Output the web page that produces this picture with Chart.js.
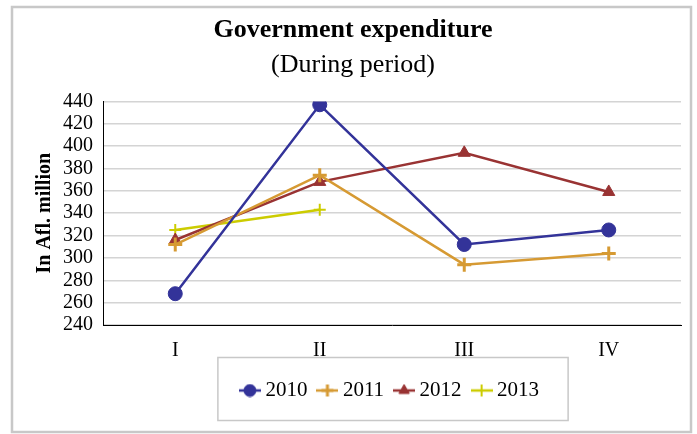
<!DOCTYPE html>
<html>
<head>
<meta charset="utf-8">
<script src="https://cdn.jsdelivr.net/npm/chart.js@4.4.1/dist/chart.umd.min.js"></script>
<style>
  html, body { margin: 0; padding: 0; background: #fff; }
  #wrap { position: relative; width: 697px; height: 434px; }
</style>
</head>
<body>
<div id="wrap"><canvas id="myChart"></canvas></div>
<script>
const categories = ['I', 'II', 'III', 'IV'];
const values2010 = [268, 437, 312, 325];
const values2011 = [312, 374, 294, 304];
const values2012 = [316, 368, 394, 359];
const values2013 = [325, 343, null, null];
const yTicks = { min: 240, max: 440, step: 20 };

const FONT = "'Liberation Serif', 'Times New Roman', serif";
const ctx = document.getElementById('myChart');

// small line+marker pictures for the legend
function legendIcon(color, style, radius, lw) {
  const c = document.createElement('canvas');
  c.width = 22; c.height = 14;
  const g = c.getContext('2d');
  g.strokeStyle = color;
  g.fillStyle = color;
  g.lineWidth = 2.5;
  g.beginPath(); g.moveTo(0, 7); g.lineTo(22, 7); g.stroke();
  g.lineWidth = lw;
  Chart.helpers.drawPoint(g, { pointStyle: style, radius, borderWidth: lw, rotation: 0 }, 11, 7);
  return c;
}

function makeSet(label, data, color, style, radius, lw) {
  return {
    label,
    data,
    borderColor: color,
    backgroundColor: color,
    pointBackgroundColor: color,
    pointBorderColor: color,
    pointStyle: style,
    pointRadius: radius,
    pointBorderWidth: lw,
    borderWidth: 2.5,
    tension: 0,
    spanGaps: false,
  };
}

const datasets = [
  makeSet('2010', values2010, '#333399', 'circle', 7, 1),
  makeSet('2011', values2011, '#D69A33', 'cross', 7, 3),
  makeSet('2012', values2012, '#993333', 'triangle', 7, 1),
  makeSet('2013', values2013, '#CCCC00', 'cross', 6, 2),
];

const frame = {
  id: 'frame',
  beforeDraw(chart) {
    const c = chart.ctx;
    c.save();
    c.fillStyle = '#fff';
    c.fillRect(0, 0, chart.width, chart.height);
    c.strokeStyle = '#c8c8c8';
    c.lineWidth = 2.5;
    c.strokeRect(12, 7, 679, 425);
    c.restore();
  },
  afterDraw(chart) {
    const lg = chart.legend;
    if (!lg || !lg.legendHitBoxes.length) return;
    const boxes = lg.legendHitBoxes;
    const first = boxes[0], last = boxes[boxes.length - 1];
    const mid = first.top + first.height / 2;
    const left = first.left - 27;
    const right = last.left + last.width + 29;
    const c = chart.ctx;
    c.save();
    c.strokeStyle = '#c8c8c8';
    c.lineWidth = 1.5;
    c.strokeRect(left, mid - 33, right - left, 63);
    c.restore();
  }
};

const chart = new Chart(ctx, {
  type: 'line',
  data: { labels: categories, datasets },
  options: {
    responsive: true,
    maintainAspectRatio: false,
    animation: false,
    layout: { padding: { left: 25, right: 16, top: 0, bottom: 23 } },
    plugins: {
      title: {
        display: true,
        text: 'Government expenditure',
        color: '#000',
        font: { family: FONT, size: 26, weight: 'bold', lineHeight: 1.2 },
        padding: { top: 15, bottom: 0 },
      },
      subtitle: {
        display: true,
        text: '(During period)',
        color: '#000',
        font: { family: FONT, size: 26, weight: 'normal', lineHeight: 1.2 },
        padding: { top: 3, bottom: 21 },
      },
      legend: {
        position: 'bottom',
        fullSize: false,
        labels: {
          color: '#000',
          font: { family: FONT, size: 21 },
          padding: 15,
          usePointStyle: true,
          pointStyleWidth: 10,
          generateLabels(chart) {
            return chart.data.datasets.map((ds, i) => ({
              text: ds.label,
              fontColor: '#000',
              pointStyle: legendIcon(ds.borderColor, ds.pointStyle, 6, ds.pointBorderWidth),
              datasetIndex: i,
              lineWidth: 0,
              strokeStyle: ds.borderColor,
              fillStyle: ds.borderColor,
            }));
          },
        },
      },
      tooltip: { enabled: false },
    },
    scales: {
      x: {
        grid: { display: false },
        border: { display: true, color: '#000', width: 1 },
        offset: true,
        ticks: { color: '#000', font: { family: FONT, size: 20 }, padding: 6 },
        afterFit(scale) { scale.height = 40; },
      },
      y: {
        min: yTicks.min,
        max: yTicks.max,
        ticks: {
          stepSize: yTicks.step,
          autoSkip: false,
          color: '#000',
          font: { family: FONT, size: 20 },
          padding: 10,
        },
        grid: { color: '#d4d4d4', lineWidth: 1.5, drawTicks: false },
        border: { display: true, color: '#000', width: 1 },
        title: {
          display: true,
          text: 'In Afl. million',
          color: '#000',
          font: { family: FONT, size: 20, weight: 'bold', lineHeight: 1.2 },
          padding: { top: 8, bottom: 0 },
        },
        afterFit(scale) { scale.width = 78; },
      },
    },
  },
  plugins: [frame],
});
</script>
</body>
</html>
